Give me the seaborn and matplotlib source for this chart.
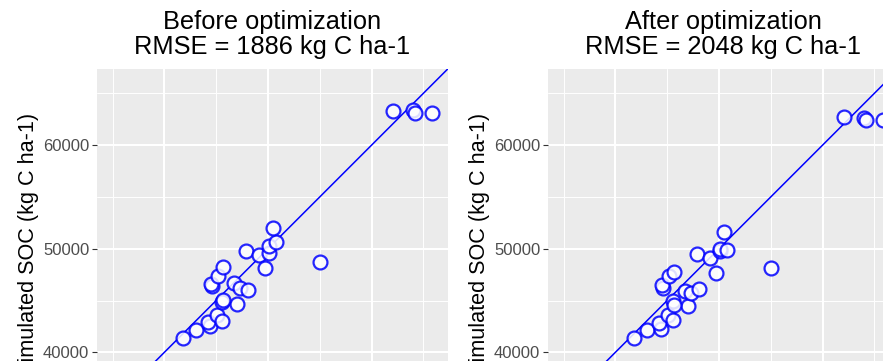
import matplotlib
matplotlib.use("Agg")
import matplotlib.pyplot as plt
from matplotlib.ticker import MultipleLocator
import numpy as np
import pandas as pd
import seaborn as sns

# Observed vs simulated soil organic carbon (kg C ha-1)
observed = [41800, 43100, 44400, 44200, 45100, 45600, 47000, 45600, 45700, 44600,
            44500, 45200, 45700, 46700, 47300, 48100, 47900, 49100, 49700, 50100,
            50100, 50800, 50500, 55000, 62100, 64000, 64200, 65800]
sim_before = [41400, 42200, 42500, 42900, 43600, 43000, 44700, 44900, 45100, 46400,
              46600, 47400, 48200, 46700, 46200, 46000, 49800, 49400, 48100, 49600,
              50300, 50700, 52000, 48700, 63300, 63400, 63100, 63100]
sim_after = [41400, 42200, 42300, 42800, 43600, 43100, 44500, 45000, 44600, 46200,
             46500, 47400, 47800, 45900, 45700, 46100, 49500, 49100, 47700, 49800,
             50000, 49900, 51600, 48100, 62700, 62600, 62400, 62400]

panel_titles = ["Before optimization\nRMSE = 1886 kg C ha-1",
                "After optimization\nRMSE = 2048 kg C ha-1"]
y_label = "Simulated SOC (kg C ha-1)"
x_label = "Observed SOC (kg C ha-1)"
axis_limits = (33500, 67350)

sns.set_theme(style="darkgrid", rc={
    "axes.facecolor": "#EBEBEB",
    "grid.color": "white",
    "axes.edgecolor": "#EBEBEB",
    "xtick.color": "#333333",
    "ytick.color": "#333333",
    "xtick.labelcolor": "#4D4D4D",
    "ytick.labelcolor": "#4D4D4D",
})
plt.rcParams["font.family"] = ["Liberation Sans", "DejaVu Sans"]

W, H = 883, 361
fig = plt.figure(figsize=(W / 100, H / 100), dpi=100)
fig.patch.set_facecolor("white")

side = 350.7
top = 69
lefts = [97, 548]
frames = [
    pd.DataFrame({"obs": observed, "sim": sim_before}),
    pd.DataFrame({"obs": observed, "sim": sim_after}),
]

for left, df, title in zip(lefts, frames, panel_titles):
    ax = fig.add_axes([left / W, (H - top - side) / H, side / W, side / H])
    ax.set_xlim(axis_limits)
    ax.set_ylim(axis_limits)
    ax.xaxis.set_major_locator(MultipleLocator(10000))
    ax.yaxis.set_major_locator(MultipleLocator(10000))
    ax.xaxis.set_minor_locator(MultipleLocator(5000))
    ax.yaxis.set_minor_locator(MultipleLocator(5000))
    ax.grid(which="major", color="white", linewidth=1.45)
    ax.grid(which="minor", color="white", linewidth=0.7)
    ax.tick_params(which="major", length=3.4, width=0.8, pad=2.2,
                   labelsize=12, left=True, bottom=True)
    ax.tick_params(which="minor", length=0)
    for sp in ax.spines.values():
        sp.set_visible(False)

    # 1:1 reference line
    ax.axline((40000, 40000), slope=1, color="#0000FF", linewidth=1.1, zorder=2)

    sns.scatterplot(data=df, x="obs", y="sim", ax=ax, s=100, marker="o",
                    facecolor="white", edgecolor="#0000FF", linewidth=1.6,
                    alpha=0.85, zorder=3, legend=False)

    ax.set_xlabel(x_label, fontsize=15.6)
    ax.set_ylabel(y_label, fontsize=15.6, labelpad=3, color="black")
    ax.set_title(title, fontsize=18.3, linespacing=1.05, pad=10.5, color="black")

fig.savefig("out.png", dpi=100, facecolor="white")
